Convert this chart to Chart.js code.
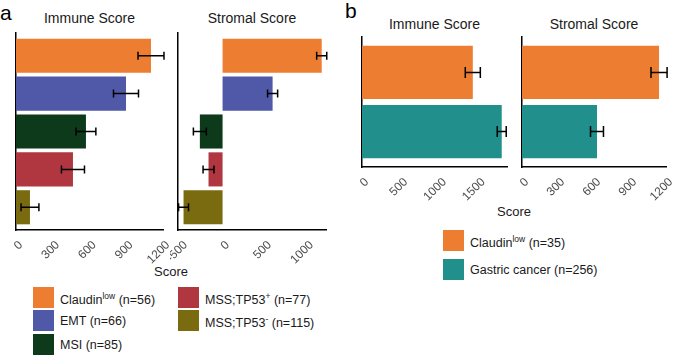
<!DOCTYPE html>
<html>
<head>
<meta charset="utf-8">
<script src="https://cdn.jsdelivr.net/npm/chart.js"></script>
<style>
  * { margin: 0; padding: 0; box-sizing: border-box; }
  body {
    width: 678px; height: 356px; background: #fff; position: relative; overflow: hidden;
    font-family: 'Liberation Sans', Arial, sans-serif; color: #1a1a1a;
  }
  canvas { position: absolute; }
  .txt { position: absolute; white-space: nowrap; line-height: 1; }
  .panel { font-size: 21px; color: #000; }
  .title { font-size: 14px; transform: translateX(-50%); }
  .axis { font-size: 13px; transform: translateX(-50%); }
  .sw { position: absolute; width: 21px; height: 21px; }
  .leg { position: absolute; font-size: 12.5px; line-height: 1; white-space: nowrap; }
  .leg sup { font-size: 8.5px; vertical-align: 5px; }
</style>
</head>
<body>
  <div class="txt panel" style="left:0px; top:2px;">a</div>
  <div class="txt panel" style="left:345px; top:0px;">b</div>

  <div class="txt title" style="left:89.5px; top:11px;">Immune Score</div>
  <div class="txt title" style="left:252px; top:11px;">Stromal Score</div>
  <div class="txt title" style="left:434.5px; top:17px;">Immune Score</div>
  <div class="txt title" style="left:594px; top:17px;">Stromal Score</div>

  <div class="txt axis" style="left:171px; top:265px;">Score</div>
  <div class="txt axis" style="left:514px; top:205px;">Score</div>

  <canvas id="immA" width="180" height="275" style="left:0px; top:0px;"></canvas>
  <canvas id="strA" width="175" height="275" style="left:170px; top:0px;"></canvas>
  <canvas id="immB" width="165" height="215" style="left:350px; top:0px;"></canvas>
  <canvas id="strB" width="168" height="215" style="left:510px; top:0px;"></canvas>

  <div id="legA"></div>
  <div id="legB"></div>

<script>
  // ---- data (panel a: molecular subtypes) ----
  const groupsA = ['Claudin', 'EMT', 'MSI', 'MSS;TP53', 'MSS;TP53'];
  const supsA = ['low', '', '', '+', '-'];
  const countsA = [56, 66, 85, 77, 115];
  const immuneA = [1102, 898, 571, 465, 114];
  const immuneErrA = [106, 102, 81, 94, 73];
  const stromalA = [1179, 595, -270, -167, -464];
  const stromalErrA = [60, 60, 77, 65, 59];
  const immuneTicksA = [0, 300, 600, 900, 1200];
  const stromalTicksA = [-500, 0, 500, 1000];

  // ---- data (panel b: claudin-low vs gastric cancer) ----
  const groupsB = ['Claudin', 'Gastric cancer'];
  const supsB = ['low', ''];
  const countsB = [35, 256];
  const immuneB = [1429, 1802];
  const immuneErrB = [97, 58];
  const stromalB = [1142, 625];
  const stromalErrB = [67, 54];
  const immuneTicksB = [0, 500, 1000, 1500];
  const stromalTicksB = [0, 300, 600, 900, 1200];

  const colorsA = ['#ED7D31', '#5059A8', '#0C3A1A', '#B0363F', '#7A6A10'];
  const colorsB = ['#ED7D31', '#21908C'];

  // error bars drawn on top of the bars
  function errPlugin(cap) {
    return {
      id: 'errbars',
      afterDatasetsDraw(chart) {
        const ds = chart.data.datasets[0];
        const meta = chart.getDatasetMeta(0);
        const xs = chart.scales.x;
        const ctx = chart.ctx;
        ctx.save();
        ctx.strokeStyle = '#000';
        ctx.lineWidth = 1.5;
        meta.data.forEach((bar, i) => {
          const v = ds.data[i].x, e = ds.errors[i];
          const x1 = xs.getPixelForValue(v - e);
          const x2 = xs.getPixelForValue(v + e);
          const y = bar.y;
          ctx.beginPath();
          ctx.moveTo(x1, y); ctx.lineTo(x2, y);
          ctx.moveTo(x1, y - cap / 2); ctx.lineTo(x1, y + cap / 2);
          ctx.moveTo(x2, y - cap / 2); ctx.lineTo(x2, y + cap / 2);
          ctx.stroke();
        });
        ctx.restore();
      }
    };
  }

  function makeChart(id, vals, errs, colors, tickVals, xmin, xmax, pad, axisH, cap) {
    const n = vals.length;
    return new Chart(document.getElementById(id), {
      type: 'bar',
      data: {
        datasets: [{
          data: vals.map((v, i) => ({ x: v, y: i + 1 })),
          errors: errs,
          backgroundColor: colors,
          borderWidth: 0,
          barPercentage: 0.9,
          categoryPercentage: 1
        }]
      },
      options: {
        indexAxis: 'y',
        responsive: false,
        animation: false,
        layout: { padding: { left: pad.left, right: pad.right, top: pad.top, bottom: 0 } },
        plugins: { legend: { display: false }, tooltip: { enabled: false } },
        scales: {
          y: {
            type: 'linear', min: 0.4, max: n + 0.6, reverse: true, offset: false,
            grid: { display: false, drawTicks: false, offset: false },
            ticks: { display: false },
            border: { display: true, color: '#000', width: 1.5 },
            afterBuildTicks: s => { s.ticks = vals.map((v, i) => ({ value: i + 1 })); },
            afterFit: s => { s.width = 0; }
          },
          x: {
            type: 'linear', min: xmin, max: xmax,
            grid: { display: false, drawTicks: false },
            border: { display: true, color: '#000', width: 1.5 },
            ticks: {
              color: '#4d4d4d', minRotation: 45, maxRotation: 45, padding: 8, labelOffset: 5,
              font: { family: "'Liberation Sans', Arial, sans-serif", size: 12 },
              callback: v => String(v)
            },
            afterBuildTicks: s => { s.ticks = tickVals.map(v => ({ value: v })); },
            afterFit: s => { s.height = axisH; s.paddingLeft = 0; s.paddingRight = 0; }
          }
        }
      },
      plugins: [errPlugin(cap)]
    });
  }

  makeChart('immA', immuneA, immuneErrA, colorsA, immuneTicksA, 0, 1200, { left: 16, right: 17, top: 33 }, 45, 8);
  makeChart('strA', stromalA, stromalErrA, colorsA, stromalTicksA, -530, 1230, { left: 8, right: 19, top: 33 }, 45, 8);
  makeChart('immB', immuneB, immuneErrB, colorsB, immuneTicksB, 0, 1870, { left: 12, right: 8, top: 37 }, 48, 11);
  makeChart('strB', stromalB, stromalErrB, colorsB, stromalTicksB, 0, 1200, { left: 12, right: 12, top: 37 }, 48, 11);

  // legends
  function legend(el, names, sups, counts, colors, slots) {
    names.forEach((name, i) => {
      const p = slots[i];
      const sw = document.createElement('div');
      sw.className = 'sw';
      sw.style.left = p[0] + 'px';
      sw.style.top = p[1] + 'px';
      sw.style.background = colors[i];
      el.appendChild(sw);
      const t = document.createElement('div');
      t.className = 'leg';
      t.style.left = (p[0] + 27) + 'px';
      t.style.top = (p[1] + 5) + 'px';
      t.innerHTML = name + (sups[i] ? '<sup>' + sups[i] + '</sup>' : '') + ' (n=' + counts[i] + ')';
      el.appendChild(t);
    });
  }
  legend(document.getElementById('legA'), groupsA, supsA, countsA, colorsA,
    [[33, 287], [33, 310], [33, 333.5], [178, 287], [178, 310]]);
  legend(document.getElementById('legB'), groupsB, supsB, countsB, colorsB,
    [[443, 229.5], [443, 259]]);
</script>
</body>
</html>
